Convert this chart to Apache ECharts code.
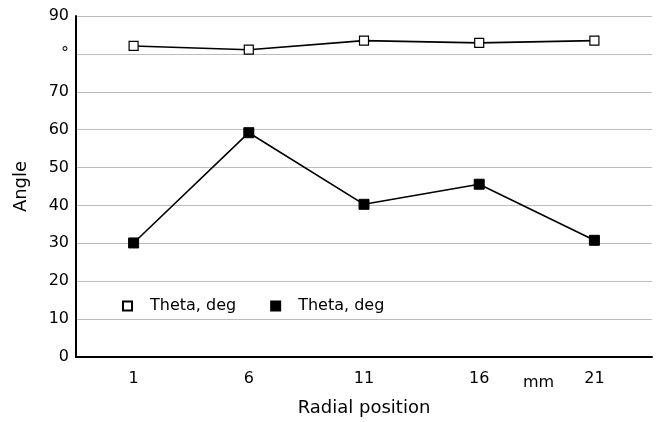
<!DOCTYPE html>
<html><head><meta charset="utf-8">
<script src="https://cdn.jsdelivr.net/npm/echarts@6/dist/echarts.min.js"></script>
<style>html,body{margin:0;padding:0;background:#fff}#c{width:659px;height:422px}</style>
</head><body><div id="c"></div>
<script>
var categories = ['1', '6', '11', '16', '21'];
var openSeries = [82.1, 81.1, 83.5, 82.9, 83.5];
var filledSeries = [30.1, 59.2, 40.3, 45.6, 30.8];
var yTickLabels = {0:'0',10:'10',20:'20',30:'30',40:'40',50:'50',60:'60',70:'70',80:'°',90:'90'};
var FONT = 'DejaVu Sans';
var chart = echarts.init(document.getElementById('c'));
chart.setOption({
  animation: false,
  backgroundColor: '#fff',
  grid: {left: 76, right: 7, top: 16, bottom: 64},
  legend: {
    left: 117, top: 293, itemGap: 34, itemWidth: 9, itemHeight: 9,
    textStyle: {fontFamily: FONT, fontSize: 16, color: '#000', padding: [0,0,0,13]},
    data: [{name: 'Theta, deg', icon: 'rect'}, {name: 'Theta, deg ', icon: 'rect'}]
  },
  xAxis: {
    type: 'category', data: categories, boundaryGap: true,
    name: 'Radial position', nameLocation: 'middle', nameGap: 42,
    nameTextStyle: {fontFamily: FONT, fontSize: 18, color: '#000'},
    axisLine: {lineStyle: {color: '#000', width: 2}},
    axisTick: {alignWithLabel: true, inside: true, length: 6, lineStyle: {color: '#aaa'}},
    axisLabel: {fontFamily: FONT, fontSize: 16, color: '#000', margin: 14},
    splitLine: {show: false}
  },
  yAxis: {
    type: 'value', min: 0, max: 90, interval: 10,
    name: 'Angle', nameLocation: 'middle', nameGap: 46,
    nameTextStyle: {fontFamily: FONT, fontSize: 18, color: '#000'},
    axisLine: {show: true, lineStyle: {color: '#000', width: 2}},
    axisTick: {show: false},
    axisLabel: {fontFamily: FONT, fontSize: 16, color: '#000', margin: 7,
      formatter: function(v){ return yTickLabels[v] !== undefined ? yTickLabels[v] : ''; }},
    splitLine: {lineStyle: {color: '#bcbcbc', width: 1}}
  },
  graphic: [{type: 'text', left: 523, top: 375, style: {text: 'mm', font: '16px "DejaVu Sans"', fill: '#000'}}],
  series: [
    {name: 'Theta, deg', type: 'line', data: openSeries, symbol: 'rect', symbolSize: 9,
     lineStyle: {color: '#000', width: 1.6},
     itemStyle: {color: '#fff', borderColor: '#000', borderWidth: 1.2}},
    {name: 'Theta, deg ', type: 'line', data: filledSeries, symbol: 'rect', symbolSize: 10,
     lineStyle: {color: '#000', width: 1.6},
     itemStyle: {color: '#000', borderColor: '#000', borderWidth: 1}}
  ]
});
</script></body></html>
